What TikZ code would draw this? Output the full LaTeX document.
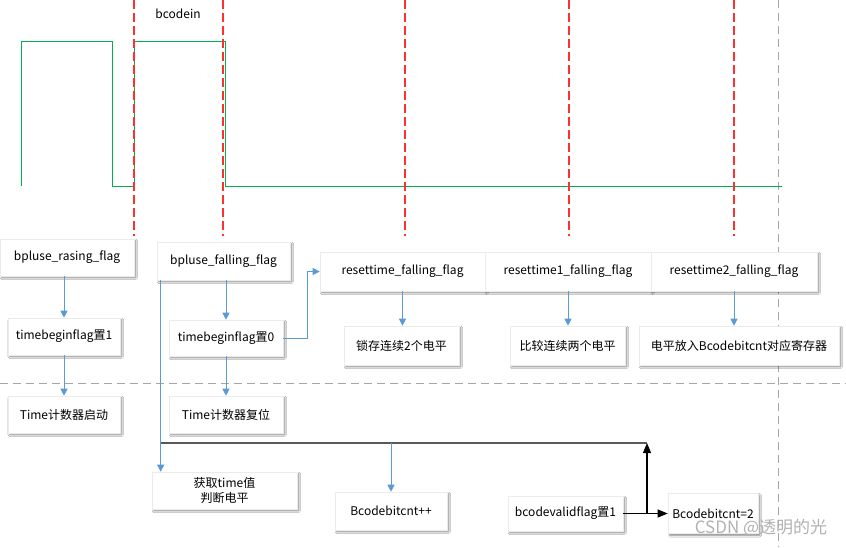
\documentclass[tikz,border=0pt]{standalone}
\usepackage{fontspec}
\setmainfont{Noto Sans CJK SC}
\usetikzlibrary{arrows.meta,shadows.blur}
\definecolor{wgreen}{HTML}{00B050}
\definecolor{wred}{HTML}{FF3030}
\definecolor{wblue}{HTML}{5B9BD5}
\definecolor{wgray}{HTML}{A6A6A6}
\definecolor{wdark}{HTML}{595959}
\tikzset{
  box/.style={fill=white, draw=black!8, line width=0.6pt, inner sep=0pt, align=center,
    font=\fontsize{12pt}{15pt}\selectfont,
    blur shadow={shadow xshift=1.8pt, shadow yshift=-1.8pt, shadow blur steps=6, shadow blur radius=1.8pt, shadow opacity=50}},
  wave/.style={wgreen, line width=1pt},
  rdash/.style={wred, line width=1.3pt, dash pattern=on 9pt off 4pt},
  gdash/.style={wgray, line width=0.8pt, dash pattern=on 8pt off 5pt},
  barrow/.style={wblue, line width=1pt, -{Triangle[length=7pt,width=7pt]}},
  karrow/.style={black, line width=1.1pt, -{Triangle[length=10pt,width=8pt]}},
  dline/.style={wdark, line width=1.6pt},
}
\begin{document}
\begin{tikzpicture}[x=1pt,y=-1pt]
\useasboundingbox[fill=white] (0,0) rectangle (846,547);
% dashed guide lines
\draw[gdash] (0,383) -- (846,383);
\draw[gdash] (778,0) -- (778,547);
% waveform
\draw[wave] (21,186) -- (21,41) -- (112,41) -- (112,186) -- (134,186) -- (134,41) -- (225,41) -- (225,186) -- (782,186);
\foreach \xx in {134,223,405,569,734} \draw[rdash] (\xx,0) -- (\xx,236);
\node[font=\fontsize{12pt}{14pt}\selectfont] (bcodein) at (178,14) {bcodein};
% boxes
\node[box, minimum width=134pt, minimum height=37pt] (rasing) at (67,257.5) {bpluse\_rasing\_flag};
\node[box, minimum width=133pt, minimum height=38pt] (falling) at (223.5,261) {bpluse\_falling\_flag};
\node[box, minimum width=112pt, minimum height=37pt] (tbf1) at (64,336.5) {timebeginflag置1};
\node[box, minimum width=114pt, minimum height=36pt] (tbf0) at (226,338) {timebeginflag置0};
\node[box, minimum width=112pt, minimum height=37pt] (tstart) at (64,414.5) {Time计数器启动};
\node[box, minimum width=114pt, minimum height=37pt] (treset) at (226,414.5) {Time计数器复位};
\node[box, minimum width=165pt, minimum height=39pt] (rt0) at (402.5,271.5) {resettime\_falling\_flag};
\node[box, minimum width=166pt, minimum height=39pt] (rt1) at (568,271.5) {resettime1\_falling\_flag};
\node[box, minimum width=166pt, minimum height=39pt] (rt2) at (734,271.5) {resettime2\_falling\_flag};
\node[box, minimum width=115pt, minimum height=39pt] (lock) at (401.5,345.5) {锁存连续2个电平};
\node[box, minimum width=115pt, minimum height=39pt] (cmp) at (567.5,345.5) {比较连续两个电平};
\node[box, minimum width=200pt, minimum height=39pt] (put) at (739,345.5) {电平放入Bcodebitcnt对应寄存器};
\node[box, minimum width=145pt, minimum height=37pt] (get) at (224.5,490.5) {获取time值\\判断电平};
\node[box, minimum width=112pt, minimum height=38pt] (inc) at (391,511) {Bcodebitcnt++};
\node[box, minimum width=115pt, minimum height=35pt] (valid) at (565.5,513.5) {bcodevalidflag置1};
\node[box, minimum width=90pt, minimum height=40pt] (eq2) at (713,513.5) {Bcodebitcnt=2};
% connectors
\draw[barrow] (rasing.south -| tbf1.north) -- (tbf1.north);
\draw[barrow] (tbf1.south) -- (tstart.north);
\draw[barrow] (falling.south -| tbf0.north) -- (tbf0.north);
\draw[barrow] (tbf0.south) -- (treset.north);
\draw[barrow] (tbf0.east) -- ++(24,0) |- (rt0.west);
\draw[barrow] (rt0.south) -- (rt0.south |- lock.north);
\draw[barrow] (rt1.south) -- (rt1.south |- cmp.north);
\draw[barrow] (rt2.south) -- (rt2.south |- put.north);
\coordinate (hl) at ([xshift=4pt]falling.south west |- 0,443);
\coordinate (hr) at (647,443);
\draw[dline] (hl) -- (hr);
\draw[barrow] ([xshift=4pt]falling.south west) -- ([xshift=4pt]falling.south west |- get.north);
\draw[barrow] (inc.north |- hl) -- (inc.north);
\draw[karrow] (valid.east) -- (eq2.west);
\draw[karrow] (valid.east -| hr) -- (hr);
% watermark
\node[text=black!30, font=\fontsize{17pt}{19pt}\selectfont] (wm) at (761,528) {CSDN @透明的光};
\end{tikzpicture}
\end{document}
